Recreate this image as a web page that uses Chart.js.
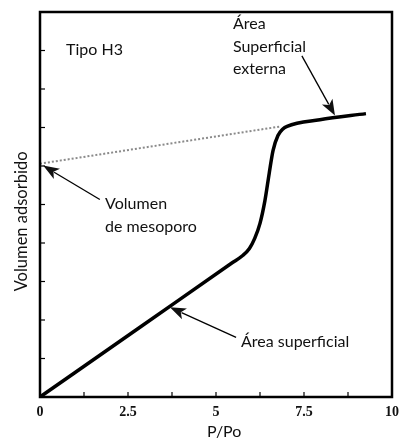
<!DOCTYPE html>
<html>
<head>
<meta charset="utf-8">
<script src="https://cdn.jsdelivr.net/npm/chart.js@4/dist/chart.umd.min.js"></script>
<style>
  html, body { margin: 0; padding: 0; background: #fff; }
</style>
</head>
<body>
<canvas id="isoChart" width="399" height="445"></canvas>
<script>
// isotherm (P/Po, volumen adsorbido)
const presion = [0, 2.9, 5.45, 5.75, 5.95, 6.1, 6.25, 6.39, 6.51, 6.62, 6.76, 6.9, 7.02, 7.95, 9.26];
const volumen = [0, 1.85, 3.48, 3.67, 3.86, 4.12, 4.51, 5.10, 5.80, 6.40, 6.79, 6.96, 7.03, 7.20, 7.36];

// extrapolated dotted line back to P/Po = 0
const extrapX = [0, 6.85];
const extrapY = [6.06, 7.03];

const xTicks = [0, 2.5, 5, 7.5, 10];

// annotations, in data units
const textos = [
  { t: 'Tipo H3', x: 0.74, y: 9.02 },
  { t: 'Área', x: 5.48, y: 9.69 },
  { t: 'Superficial', x: 5.48, y: 9.09 },
  { t: 'externa', x: 5.48, y: 8.52 },
  { t: 'Volumen', x: 1.85, y: 5.03 },
  { t: 'de mesoporo', x: 1.85, y: 4.43 },
  { t: 'Área superficial', x: 5.71, y: 1.42 }
];
const flechas = [
  { from: [7.44, 8.86], to: [8.38, 7.31] },
  { from: [1.70, 5.13], to: [0.09, 6.01] },
  { from: [5.57, 1.55], to: [3.69, 2.33] }
];

const toPts = (xs, ys) => xs.map((x, i) => ({ x: x, y: ys[i] }));

const framePlugin = {
  id: 'frame',
  afterDraw(chart) {
    const ctx = chart.ctx;
    const a = chart.chartArea;
    const xs = chart.scales.x, ys = chart.scales.y;
    ctx.save();
    ctx.strokeStyle = '#000';
    // inward ticks
    ctx.lineWidth = 1.2;
    for (let v = 1.25; v < 10; v += 1.25) {
      const px = xs.getPixelForValue(v);
      ctx.beginPath(); ctx.moveTo(px, a.bottom); ctx.lineTo(px, a.bottom - 5); ctx.stroke();
    }
    for (let v = 1; v < 10; v++) {
      const py = ys.getPixelForValue(v);
      ctx.beginPath(); ctx.moveTo(a.left, py); ctx.lineTo(a.left + 5, py); ctx.stroke();
    }
    // frame
    ctx.lineWidth = 2.5;
    ctx.strokeRect(a.left, a.top, a.right - a.left, a.bottom - a.top);

    // text
    ctx.fillStyle = '#111';
    ctx.font = '16px Lato';
    ctx.textBaseline = 'middle';
    ctx.textAlign = 'left';
    textos.forEach(o => ctx.fillText(o.t, xs.getPixelForValue(o.x), ys.getPixelForValue(o.y)));

    // arrows
    flechas.forEach(f => {
      const x1 = xs.getPixelForValue(f.from[0]), y1 = ys.getPixelForValue(f.from[1]);
      const x2 = xs.getPixelForValue(f.to[0]), y2 = ys.getPixelForValue(f.to[1]);
      const ang = Math.atan2(y2 - y1, x2 - x1);
      const hl = 16, hw = 6;
      ctx.lineWidth = 1.3;
      ctx.beginPath(); ctx.moveTo(x1, y1);
      ctx.lineTo(x2 - Math.cos(ang) * hl * 0.8, y2 - Math.sin(ang) * hl * 0.8); ctx.stroke();
      ctx.beginPath();
      ctx.moveTo(x2, y2);
      ctx.lineTo(x2 - Math.cos(ang) * hl - Math.sin(ang) * hw, y2 - Math.sin(ang) * hl + Math.cos(ang) * hw);
      ctx.lineTo(x2 - Math.cos(ang) * hl * 0.75, y2 - Math.sin(ang) * hl * 0.75);
      ctx.lineTo(x2 - Math.cos(ang) * hl + Math.sin(ang) * hw, y2 - Math.sin(ang) * hl - Math.cos(ang) * hw);
      ctx.closePath();
      ctx.fill();
    });
    ctx.restore();
  }
};

const nb = '\u00a0';

new Chart(document.getElementById('isoChart'), {
  type: 'line',
  data: {
    datasets: [{
      data: toPts(extrapX, extrapY),
      borderColor: '#8a8a8a',
      borderWidth: 2,
      borderDash: [2, 2],
      pointRadius: 0
    }, {
      data: toPts(presion, volumen),
      borderColor: '#000',
      borderWidth: 3.5,
      pointRadius: 0,
      cubicInterpolationMode: 'monotone'
    }]
  },
  options: {
    responsive: false,
    animation: false,
    layout: { padding: { top: 12, right: 7, left: 0, bottom: 0 } },
    plugins: { legend: { display: false }, tooltip: { enabled: false } },
    scales: {
      x: {
        type: 'linear', min: 0, max: 10,
        afterBuildTicks: s => { s.ticks = xTicks.map(v => ({ value: v })); },
        afterFit: s => { s.height = 48; s.paddingLeft = 0; s.paddingRight = 0; },
        grid: { display: false, drawTicks: false },
        border: { display: false },
        ticks: {
          padding: 7, color: '#111', maxRotation: 0,
          font: { family: 'Liberation Serif', size: 14, weight: 'bold' }
        },
        title: {
          display: true, text: nb.repeat(4) + 'P/Po', color: '#111',
          font: { family: 'Lato', size: 16 }, padding: { top: 0, bottom: 4 }
        }
      },
      y: {
        type: 'linear', min: 0, max: 10,
        afterFit: s => { s.width = 40; s.paddingTop = 0; s.paddingBottom = 0; },
        grid: { display: false, drawTicks: false },
        border: { display: false },
        ticks: { display: false },
        title: {
          display: true, text: 'Volumen adsorbido' + nb.repeat(8), color: '#111',
          font: { family: 'Lato', size: 16.5 }, padding: { top: 12, bottom: 0 }
        }
      }
    }
  },
  plugins: [framePlugin]
});
</script>
</body>
</html>
